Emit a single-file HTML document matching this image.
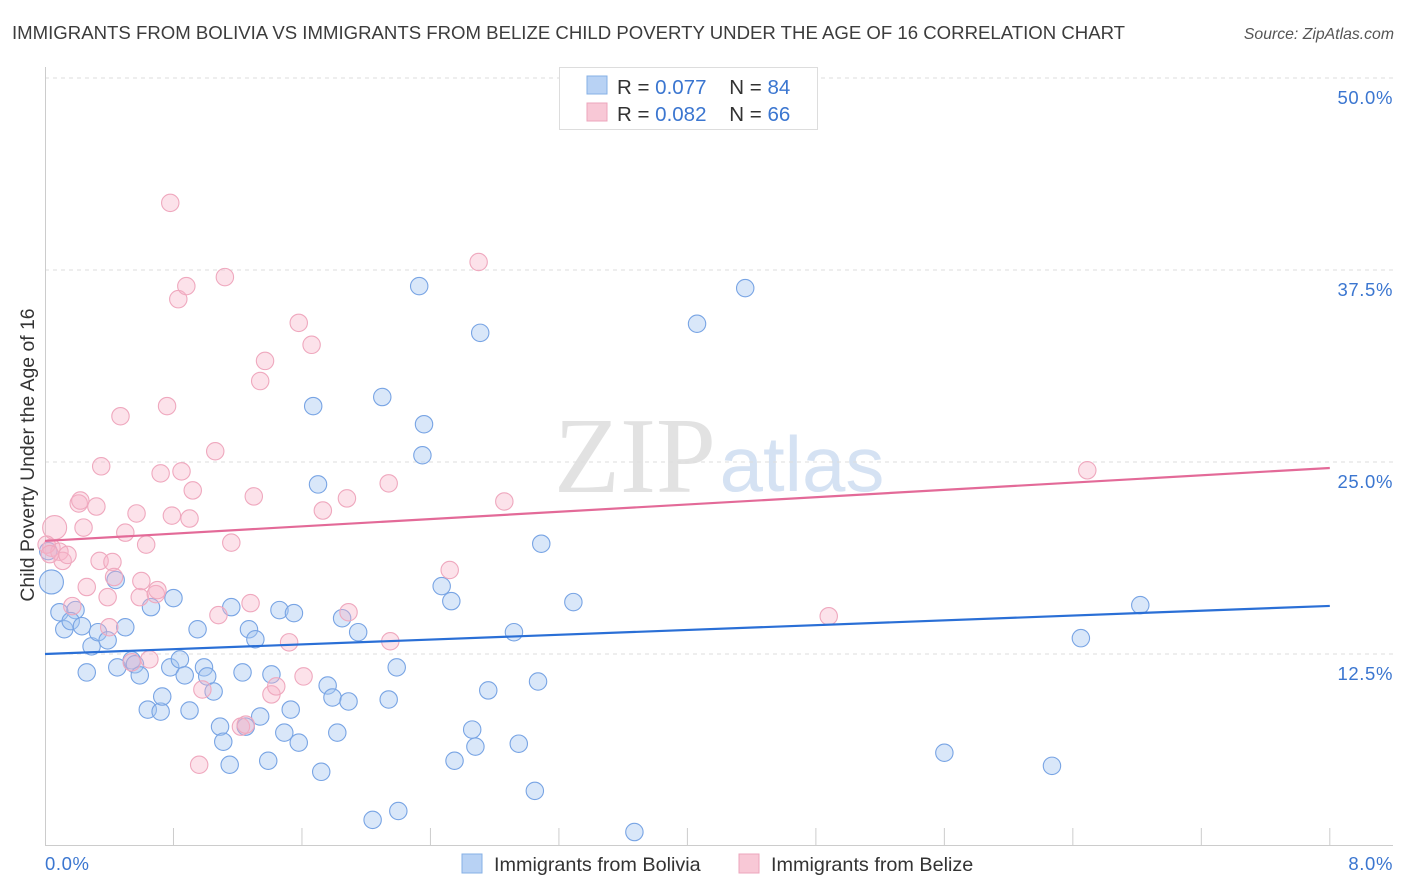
<!DOCTYPE html>
<html><head><meta charset="utf-8"><style>
body{margin:0;background:#fff;font-family:"Liberation Sans",sans-serif;}
svg{display:block}
</style></head><body>
<svg id="chart" width="1406" height="892">
<text x="12" y="39" font-size="18.6" fill="#3c3c3c">IMMIGRANTS FROM BOLIVIA VS IMMIGRANTS FROM BELIZE CHILD POVERTY UNDER THE AGE OF 16 CORRELATION CHART</text>
<text x="1394" y="39" font-size="15.8" fill="#555" font-style="italic" text-anchor="end">Source: ZipAtlas.com</text>
<text x="635" y="492" font-size="108" fill="#e2e2e2" font-family="Liberation Serif,serif" text-anchor="middle">ZIP</text>
<text x="802" y="491" font-size="78" fill="#d5e2f3" text-anchor="middle">atlas</text>
<g id="grid"></g>
<g id="axes"></g>
<g id="pts"></g>
<g id="trend"></g>
<text transform="translate(34,455) rotate(-90)" font-size="19.4" fill="#333" text-anchor="middle">Child Poverty Under the Age of 16</text>
<g>
<rect x="559.5" y="67.5" width="258" height="62" fill="#fff" stroke="#ddd"/>
<rect x="587" y="76" width="20" height="18" fill="#b8d2f4" stroke="#86b0e6"/>
<rect x="587" y="103" width="20" height="18" fill="#f8c8d6" stroke="#eca6bc"/>
<text x="617" y="94" font-size="20.5" fill="#333">R = <tspan fill="#3b76d0">0.077</tspan>&#160;&#160;&#160;&#160;N = <tspan fill="#3b76d0">84</tspan></text>
<text x="617" y="121" font-size="20.5" fill="#333">R = <tspan fill="#3b76d0">0.082</tspan>&#160;&#160;&#160;&#160;N = <tspan fill="#3b76d0">66</tspan></text>
</g>
<g>
<rect x="462" y="854" width="20" height="19" fill="#b8d2f4" stroke="#86b0e6"/>
<text x="494" y="871" font-size="19.8" fill="#333">Immigrants from Bolivia</text>
<rect x="739" y="854" width="20" height="19" fill="#f8c8d6" stroke="#eca6bc"/>
<text x="771" y="871" font-size="19.8" fill="#333">Immigrants from Belize</text>
</g>
</svg>
<script>
const yTicks=[12.5,25,37.5,50];
const yTickLabels=["12.5%","25.0%","37.5%","50.0%"];
const xEndLabels=["0.0%","8.0%"];
const boliviaX=[0.04,0.09,0.19,0.12,0.16,0.23,0.29,0.33,0.39,0.26,0.44,0.45,0.50,0.54,0.56,0.59,0.66,0.64,0.72,0.73,0.78,0.80,0.84,0.87,0.90,0.95,0.99,1.01,1.05,1.09,1.11,1.15,1.16,1.23,1.25,1.27,1.31,1.34,1.39,1.41,1.46,1.49,1.53,1.55,1.58,1.67,1.70,1.72,1.76,1.79,1.82,1.85,1.89,1.95,2.04,2.10,2.14,2.19,2.20,2.33,2.36,2.35,2.47,2.53,2.55,2.66,2.68,2.71,2.76,2.92,2.95,3.05,3.07,3.09,3.29,3.67,4.06,4.36,5.60,6.27,6.45,6.82,0.02];
const boliviaY=[17.19,15.22,15.36,14.11,14.64,14.31,13.00,13.92,13.39,11.30,17.32,11.63,14.24,12.09,11.83,11.11,15.55,8.88,8.75,9.73,11.63,16.14,12.15,11.11,8.82,14.11,11.63,11.04,10.06,7.77,6.79,5.29,15.55,11.30,7.77,14.11,13.46,8.43,5.55,11.17,15.36,7.38,8.88,15.16,6.73,28.64,23.54,4.83,10.45,9.67,7.38,14.83,9.41,13.92,1.70,29.23,9.54,11.63,2.28,36.45,27.46,25.44,16.92,15.94,5.55,7.58,6.47,33.41,10.13,13.92,6.66,3.59,10.71,19.68,15.88,0.91,34.0,36.32,6.07,5.22,13.53,15.68,19.2];
const belizeX=[0.06,0.04,0.09,0.11,0.14,0.01,0.17,0.21,0.22,0.24,0.26,0.32,0.34,0.35,0.39,0.40,0.42,0.43,0.47,0.50,0.54,0.57,0.59,0.60,0.63,0.65,0.69,0.70,0.72,0.76,0.78,0.79,0.83,0.85,0.88,0.90,0.92,0.98,0.96,1.06,1.08,1.12,1.16,1.22,1.28,1.30,1.34,1.37,1.41,1.44,1.52,1.58,1.61,1.66,1.73,1.88,1.89,2.14,2.15,2.52,2.70,2.86,4.88,6.49,0.03,1.25];
const belizeY=[20.73,19.42,19.16,18.56,18.95,19.62,15.62,22.30,22.49,20.73,16.86,22.10,18.56,24.72,16.20,14.24,18.49,17.51,27.98,20.40,11.96,21.65,16.20,17.25,19.62,12.15,16.40,16.66,24.26,28.64,41.87,21.51,35.60,24.39,36.45,21.32,23.15,10.19,5.29,25.70,15.03,37.04,19.75,7.77,15.81,22.76,30.27,31.58,9.87,10.39,13.26,34.06,11.04,32.63,21.84,22.63,15.22,23.61,13.33,17.97,38.02,22.43,14.96,24.46,19.0,7.9];
const trendXs=[0,8];
const boliviaTrend=[12.5,15.63];
const belizeTrend=[19.86,24.61];
const NS="http://www.w3.org/2000/svg";
const X=v=>45+v*160.6, Y=v=>846-v*15.36;
function mk(tag,attrs,parent){const e=document.createElementNS(NS,tag);for(const k in attrs)e.setAttribute(k,attrs[k]);document.getElementById(parent).appendChild(e);return e;}
yTicks.forEach((t,i)=>{
 const l=mk('line',{x1:45,x2:1393,y1:Y(t),y2:Y(t),stroke:'#ddd','stroke-dasharray':'4,4'},'grid');
 
 
 const tx=mk('text',{x:1393,y:Y(t)+26,'font-size':18.5,fill:'#3b76d0','text-anchor':'end','letter-spacing':'0.6'},'grid');
 tx.textContent=yTickLabels[i];
 
 
});
const ax=mk('line',{x1:45,x2:1393,y1:845.5,y2:845.5,stroke:'#ccc'},'axes');


const ay=mk('line',{x1:45.5,x2:45.5,y1:67,y2:846,stroke:'#ccc'},'axes');


for(let i=1;i<=10;i++){const t=mk('line',{x1:X(i*0.8),x2:X(i*0.8),y1:828,y2:846,stroke:'#ccc'},'axes');
 
 }
[[0,'start',45],[8,'end',1393]].forEach((d,i)=>{const t=mk('text',{x:d[2],y:870,'font-size':18.5,fill:'#3b76d0','text-anchor':d[1],'letter-spacing':'0.6'},'axes');t.textContent=xEndLabels[i];
 
 });
function pts(xs,ys,fill,stroke,name,bigIdx){
 xs.forEach((x,i)=>{const c=mk('circle',{cx:X(x),cy:Y(ys[i]),r:(i===bigIdx?12:8.7),fill:fill,stroke:stroke,'stroke-width':1.1},'pts');
 
 });
}
pts(boliviaX,boliviaY,'rgba(165,198,240,0.42)','#78a4e4','bolivia-point',0);
pts(belizeX,belizeY,'rgba(246,180,200,0.38)','#efa8be','belize-point',0);
const tb=mk('line',{x1:X(trendXs[0]),x2:X(trendXs[1]),y1:Y(boliviaTrend[0]),y2:Y(boliviaTrend[1]),stroke:'#2a6fd6','stroke-width':2.2},'trend');


const tp=mk('line',{x1:X(trendXs[0]),x2:X(trendXs[1]),y1:Y(belizeTrend[0]),y2:Y(belizeTrend[1]),stroke:'#e36a98','stroke-width':2.2},'trend');


</script>
</body></html>
